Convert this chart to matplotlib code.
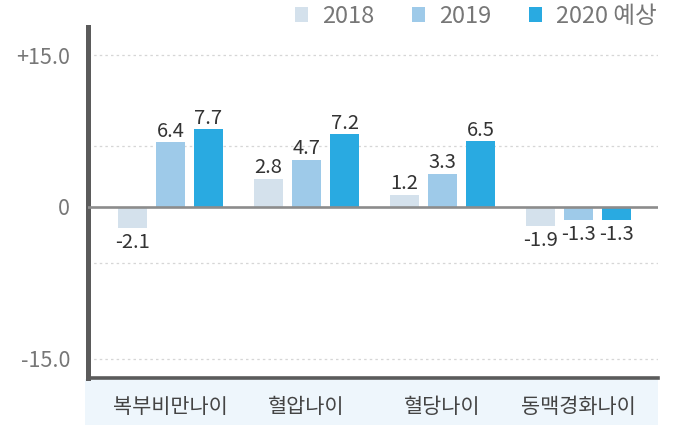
import matplotlib
matplotlib.use("Agg")
import matplotlib.pyplot as plt
from matplotlib.patches import Patch, Rectangle
import numpy as np

plt.rcParams['font.family'] = ['Noto Sans CJK KR', 'DejaVu Sans']

# ---- data ----
categories = ['복부비만나이', '혈압나이', '혈당나이', '동맥경화나이']
series_names = ['2018', '2019', '2020 예상']
v2018 = [-2.1, 2.8, 1.2, -1.9]
v2019 = [6.4, 4.7, 3.3, -1.3]
v2020 = [7.7, 7.2, 6.5, -1.3]
ytick_values = [15, 0, -15]
ytick_labels = ['+15.0', '0', '-15.0']
grid_values = [15, 6, -5.5, -15]

colors = ['#d4e1ec', '#9ecae9', '#29aae1']

W, H = 673, 426
fig = plt.figure(figsize=(W / 100, H / 100), dpi=100)
ax = fig.add_axes([88 / W, 48 / H, 570 / W, 351 / H])

# category band under the axis
fig.add_artist(Rectangle((85 / W, 1 / H), (658 - 85) / W, 46 / H,
                         transform=fig.transFigure, facecolor='#eef6fc',
                         edgecolor='none', zorder=0))

x = np.arange(len(categories))
offset = 38 / 136
width = 29 / 136
all_vals = [v2018, v2019, v2020]
for i, (vals, c, name) in enumerate(zip(all_vals, colors, series_names)):
    xs = x + (i - 1) * offset
    ax.bar(xs, vals, width=width, color=c, label=name, zorder=2)
    for xi, v in zip(xs, vals):
        if v >= 0:
            ax.annotate(f'{v:.1f}', (xi, v), xytext=(0, 0.5), textcoords='offset points',
                        ha='center', va='bottom', fontsize=14.5, color='#333333')
        else:
            ax.annotate(f'{v:.1f}', (xi, v), xytext=(0, -3), textcoords='offset points',
                        ha='center', va='top', fontsize=14.5, color='#333333')

ax.axhline(0, color='#8c8c8c', lw=1.9, zorder=3)
for g in grid_values:
    ax.axhline(g, color='#d6d6d6', lw=0.9, ls=(0, (2, 2.5)), zorder=1)

ax.set_ylim(-16.93, 17.82)
ax.set_xlim(-0.607, 3.585)
ax.set_yticks(ytick_values)
ax.set_yticklabels(ytick_labels)
ax.set_xticks(x)
ax.set_xticklabels(categories)
ax.tick_params(axis='y', length=0, pad=13, labelsize=15.5, labelcolor='#777777')
ax.tick_params(axis='x', length=0, pad=13, labelsize=15, labelcolor='#444444')

for s in ['top', 'right']:
    ax.spines[s].set_visible(False)
ax.spines['left'].set_linewidth(3.6)
ax.spines['left'].set_color('#5b5b5b')
ax.spines['bottom'].set_linewidth(2.6)
ax.spines['bottom'].set_color('#5b5b5b')

handles = [Patch(facecolor=c, edgecolor='none') for c in colors]
leg = fig.legend(handles, series_names, loc='upper right', bbox_to_anchor=(664 / W, 1.005),
                 ncol=3, frameon=False, fontsize=17, handlelength=0.55, handleheight=0.55,
                 handletextpad=0.6, columnspacing=1.6, borderpad=0.1, borderaxespad=0.2)
for t in leg.get_texts():
    t.set_color('#777777')

fig.savefig('out.png', dpi=100)
